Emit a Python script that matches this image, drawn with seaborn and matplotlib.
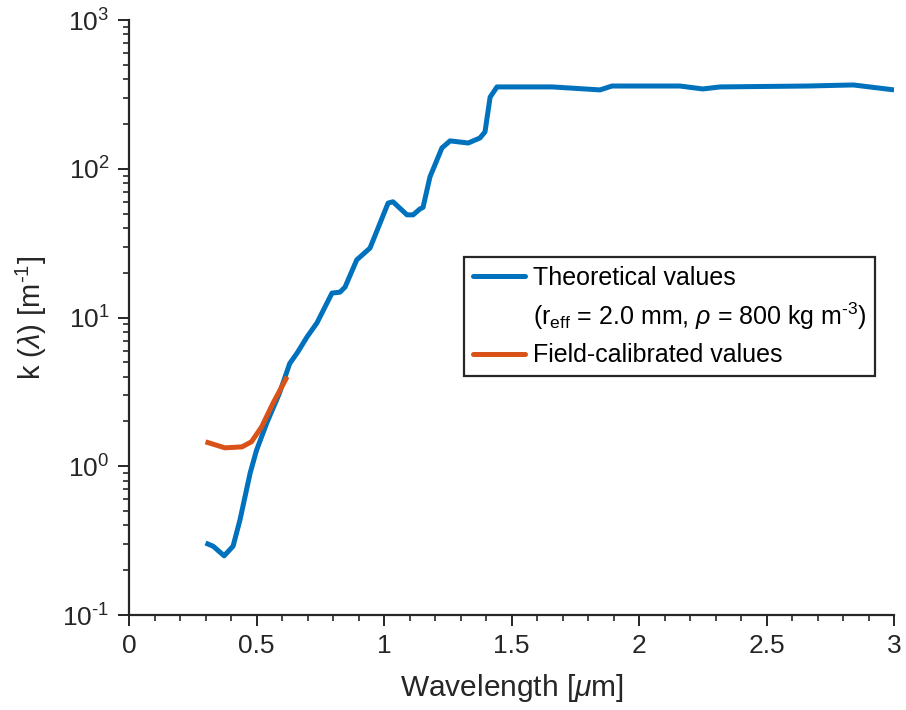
import numpy as np
import pandas as pd
import matplotlib
matplotlib.use("Agg")
import matplotlib.pyplot as plt
from matplotlib.ticker import MultipleLocator, LogLocator, FuncFormatter
from matplotlib.lines import Line2D
import seaborn as sns

# Theoretical absorption coefficient
wl_theory = [0.30, 0.33, 0.373, 0.408, 0.435, 0.475, 0.50, 0.54, 0.59, 0.63,
             0.66, 0.698, 0.737, 0.796, 0.827, 0.847, 0.893, 0.945, 1.016, 1.035,
             1.09, 1.114, 1.141, 1.153, 1.18, 1.227, 1.259, 1.33, 1.376, 1.396,
             1.416, 1.443, 1.66, 1.847, 1.894, 2.16, 2.25, 2.318, 2.66, 2.84, 3.0]
k_theory = [0.305, 0.29, 0.25, 0.29, 0.435, 0.90, 1.28, 1.95, 3.1, 4.9,
            5.8, 7.4, 9.2, 14.6, 14.8, 16.0, 24.4, 29.3, 58.8, 60.0,
            49.0, 49.0, 53.7, 55.0, 88.0, 138.0, 154.0, 149.0, 161.0, 177.0,
            303.0, 355.0, 355.0, 339.0, 360.0, 360.0, 344.0, 355.0, 360.0, 366.0, 339.0]

# Field-calibrated absorption coefficient
wl_field = [0.30, 0.376, 0.443, 0.48, 0.52, 0.565, 0.62]
k_field = [1.46, 1.33, 1.35, 1.46, 1.84, 2.66, 4.0]

x_ticks = [0, 0.5, 1, 1.5, 2, 2.5, 3]
x_tick_labels = ["0", "0.5", "1", "1.5", "2", "2.5", "3"]

series_names = ["Theoretical values", "Field-calibrated values"]
params_text = r"($\mathregular{r_{eff}}$ = 2.0 mm, $\rho$ = 800 kg m$^{\text{-3}}$)"

BLUE = "#0072BD"
ORANGE = "#D95319"
INK = "#262626"

sns.set_style("ticks")
plt.rcParams["font.family"] = ["Liberation Sans", "DejaVu Sans"]
plt.rcParams["mathtext.fontset"] = "custom"
plt.rcParams["mathtext.rm"] = "Liberation Sans"
plt.rcParams["mathtext.it"] = "Liberation Sans:italic"
plt.rcParams["mathtext.bf"] = "Liberation Sans:bold"

df = pd.concat([
    pd.DataFrame({"wl": wl_theory, "k": k_theory, "series": series_names[0]}),
    pd.DataFrame({"wl": wl_field, "k": k_field, "series": series_names[1]}),
])

fig = plt.figure(figsize=(9.06, 7.10), dpi=100)
ax = fig.add_axes([0.1424, 0.1338, 0.8444, 0.838])

sns.lineplot(data=df, x="wl", y="k", hue="series", hue_order=series_names,
             palette=[BLUE, ORANGE], linewidth=3.6, sort=False,
             estimator=None, legend=False, ax=ax)
for ln in ax.get_lines():
    ln.set_solid_joinstyle("round")
    ln.set_solid_capstyle("butt")

ax.set_yscale("log")
ax.set_xlim(0, 3)
ax.set_ylim(0.1, 1000)
ax.xaxis.set_minor_locator(MultipleLocator(0.1))
ax.yaxis.set_major_locator(LogLocator(base=10, numticks=10))
ax.yaxis.set_minor_locator(LogLocator(base=10, subs=np.arange(2, 10), numticks=20))
ax.set_xticks(x_ticks)
ax.set_xticklabels(x_tick_labels)


def power_label(v, _pos):
    e = int(round(np.log10(v)))
    exp = r"\text{-%d}" % abs(e) if e < 0 else "%d" % e
    return r"$\mathregular{10^{%s}}$" % exp


ax.yaxis.set_major_formatter(FuncFormatter(power_label))

sns.despine(ax=ax)
for s in ("left", "bottom"):
    ax.spines[s].set_linewidth(1.6)
    ax.spines[s].set_color(INK)

ax.tick_params(which="major", direction="out", length=8, width=1.4,
               colors=INK, labelsize=19, pad=6)
ax.tick_params(which="minor", direction="out", length=4.5, width=1.2, colors=INK)

ax.set_xlabel(r"Wavelength [$\mu$m]", fontsize=21.5, color=INK, labelpad=10)
ax.set_ylabel(r"k ($\lambda$) [m$^{\text{-1}}$]", fontsize=21, color=INK, labelpad=10)

handles = [Line2D([], [], color=BLUE, lw=3.6),
           Line2D([], [], color="none", lw=0),
           Line2D([], [], color=ORANGE, lw=3.6)]
labels = [series_names[0], params_text, series_names[1]]
leg = ax.legend(handles, labels, loc="upper left", bbox_to_anchor=(0.438, 0.602),
                borderaxespad=0, fontsize=18, frameon=True, fancybox=False,
                handlelength=2.1, handletextpad=0.3, labelspacing=0.45,
                borderpad=0.35, framealpha=1)
leg.get_frame().set_edgecolor(INK)
leg.get_frame().set_linewidth(1.6)
for t in leg.get_texts():
    t.set_color("black")

fig.savefig("out.png", dpi=100, facecolor="white")
